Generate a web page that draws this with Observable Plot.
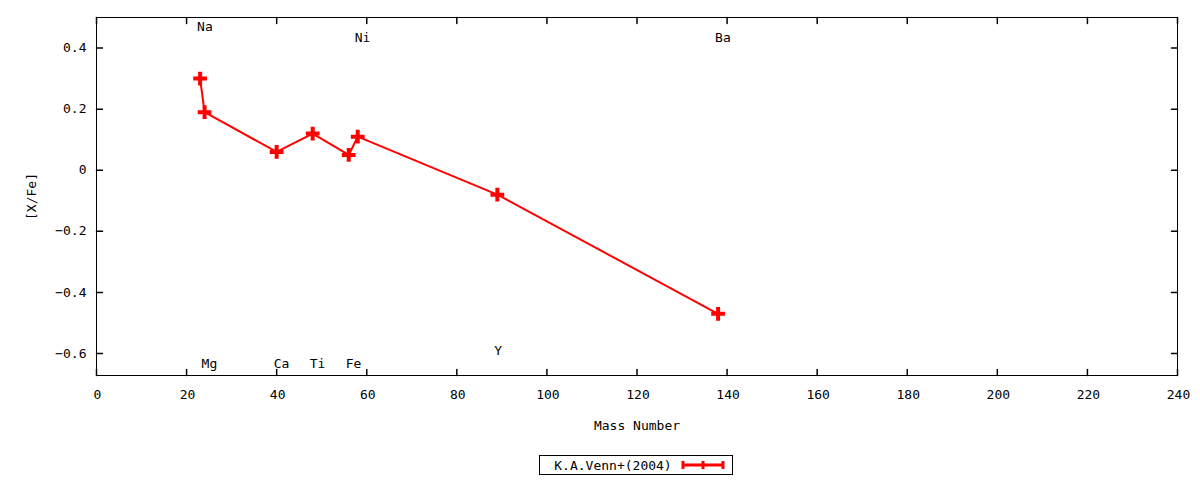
<!DOCTYPE html>
<html>
<head>
<meta charset="utf-8">
<script src="https://cdn.jsdelivr.net/npm/d3@7"></script>
<script src="https://cdn.jsdelivr.net/npm/@observablehq/plot@0.6"></script>
<style>
  body { margin: 0; background: #fff; font-family: "DejaVu Sans Mono", monospace; }
  #legend { width: 1200px; display: flex; justify-content: center; }
  #legend .box { margin-left: 72px; margin-top: 10px; border: 1px solid #000; height: 18px; display: flex; align-items: center; padding: 0 6px 0 14px; font-size: 13px; color: #000; }
</style>
</head>
<body>
<div id="chart"></div>
<div id="legend"></div>
<script>
// Data
const elements = ["Na", "Mg", "Ca", "Ti", "Fe", "Ni", "Y", "Ba"];
const massNumbers = [23, 24, 40, 48, 56, 58, 89, 138];
const abundances = [0.30, 0.19, 0.06, 0.12, 0.05, 0.11, -0.08, -0.47];
const labelY = [0.47, -0.635, -0.635, -0.635, -0.635, 0.435, -0.59, 0.435];
const xTicks = [0, 20, 40, 60, 80, 100, 120, 140, 160, 180, 200, 220, 240];
const yTicks = [-0.6, -0.4, -0.2, 0, 0.2, 0.4];
const xDomain = [0, 240];
const yDomain = [-0.672, 0.5];
const seriesName = "K.A.Venn+(2004)";

const points = elements.map((el, i) => ({el, x: massNumbers[i], y: abundances[i], ly: labelY[i]}));

const tickShape = {draw(ctx, l) { ctx.moveTo(0, 0); ctx.lineTo(0, -l); }};
const fmtY = d => d === 0 ? "0" : d3.format(".1f")(d);

const chart = Plot.plot({
  width: 1200,
  height: 445,
  marginLeft: 96,
  marginRight: 23,
  marginTop: 17,
  marginBottom: 70,
  style: {fontFamily: "DejaVu Sans Mono, monospace", fontSize: "13px", color: "#000", background: "#fff"},
  x: {domain: xDomain},
  y: {domain: yDomain},
  marks: [
    Plot.frame({stroke: "#000", strokeWidth: 1}),
    Plot.axisX(xTicks, {tickSize: 0, tickPadding: 14, dx: 1, label: "Mass Number", labelAnchor: "center", labelArrow: "none", labelOffset: 54, fontSize: 13}),
    Plot.axisY(yTicks, {tickSize: 0, tickPadding: 10, tickFormat: fmtY, label: "[X/Fe]", labelAnchor: "center", labelArrow: "none", labelOffset: 70, fontSize: 13}),
    // inward ticks on all four sides
    Plot.vector(xTicks, {x: d => d, y: yDomain[0], length: 6, rotate: 0, anchor: "start", shape: tickShape, stroke: "#000"}),
    Plot.vector(xTicks, {x: d => d, y: yDomain[1], length: 6, rotate: 180, anchor: "start", shape: tickShape, stroke: "#000"}),
    Plot.vector(yTicks, {y: d => d, x: xDomain[0], length: 6, rotate: 90, anchor: "start", shape: tickShape, stroke: "#000"}),
    Plot.vector(yTicks, {y: d => d, x: xDomain[1], length: 6, rotate: 270, anchor: "start", shape: tickShape, stroke: "#000"}),
    Plot.line(points, {x: "x", y: "y", stroke: "#ff0000", strokeWidth: 2}),
    Plot.dot(points, {x: "x", y: "y", symbol: "plus", r: 4.5, stroke: "#ff0000", strokeWidth: 4}),
    Plot.text(points, {x: "x", y: "ly", text: "el", textAnchor: "start", dx: -3, fill: "#000", fontSize: 13})
  ]
});
document.getElementById("chart").append(chart);

// Legend
const box = document.createElement("div");
box.className = "box";
box.innerHTML = `<span>${seriesName}</span>
<svg width="46" height="14" style="margin-left:8px">
  <line x1="3" y1="7" x2="43" y2="7" stroke="#ff0000" stroke-width="3"/>
  <line x1="3" y1="3" x2="3" y2="11" stroke="#ff0000" stroke-width="3"/>
  <line x1="43" y1="3" x2="43" y2="11" stroke="#ff0000" stroke-width="3"/>
  <line x1="23" y1="3" x2="23" y2="11" stroke="#ff0000" stroke-width="3"/>
</svg>`;
document.getElementById("legend").append(box);
</script>
</body>
</html>
